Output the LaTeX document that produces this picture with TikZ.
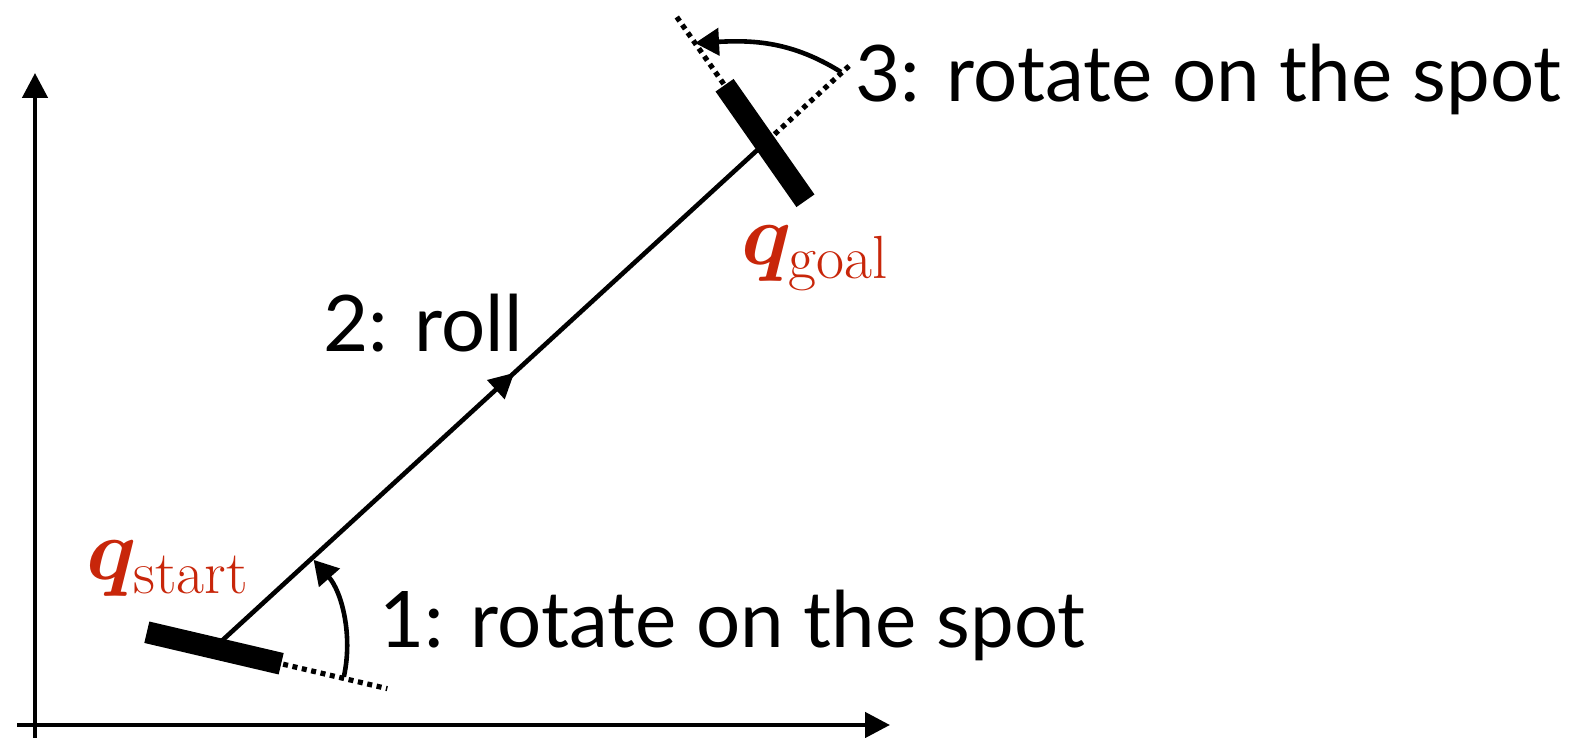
\RequirePackage{fix-cm}
\documentclass[tikz,border=0pt]{standalone}
\usepackage{amsmath}
\usepackage{bm}
\usepackage{fontspec}
\newfontfamily\labelfont{Lato}
\usetikzlibrary{arrows.meta,decorations.markings,calc}
\definecolor{qred}{RGB}{200,38,10}
\tikzset{
  ax/.style={line width=2.3pt, -{Triangle[length=12.5pt,width=12.5pt]}},
  robot/.style={line width=11pt, line cap=butt},
  ext/.style={line width=2.6pt, dash pattern=on 2.5pt off 2.3pt},
  turn/.style={line width=2.3pt, -{Triangle[length=12pt,width=13.5pt]}},
  lbl/.style={font=\labelfont\fontsize{39pt}{44pt}\selectfont, anchor=base west, inner sep=0pt},
  qlbl/.style={text=qred, font=\fontsize{43.5pt}{48pt}\selectfont, inner sep=0pt, anchor=base west},
  pathline/.style={line width=2.3pt, postaction={decorate},
    decoration={markings, mark=at position 0.545 with {\arrow{Triangle[length=12.5pt,width=12.5pt]}}}}
}
\begin{document}
\begin{tikzpicture}[x=0.5pt,y=0.5pt]
\useasboundingbox (0,0) rectangle (1594,738);
% axes
\coordinate (O1) at (35,0);
\coordinate (Yt) at (35,665);
\coordinate (O2) at (17,13);
\coordinate (Xt) at (890,13);
\draw[ax] (O1) -- (Yt);
\draw[ax] (O2) -- (Xt);
% poses
\coordinate (S) at (214,90);
\coordinate (G) at (765,595);
\draw[pathline] (S) -- (G);
% start robot
\draw[robot] (S) ++(166.8:69) -- ++(-13.2:138);
\draw[ext] (S) ++(-13.2:71) -- ++(-13.2:107);
\draw[turn] (S) ++(-12.5:133) arc[start angle=-12.5, end angle=41.5, radius=133];
% goal robot
\draw[robot] (G) ++(125:70.5) -- ++(-55:141);
\draw[ext] (G) ++(42.5:13) -- ++(42.5:104);
\draw[ext] (G) ++(125:72) -- ++(125:86);
\coordinate (A3s) at ($(G)+(43:104)$);
\coordinate (A3e) at ($(G)+(125:122)$);
\draw[turn] (A3s) to[out=148,in=3] (A3e);
% labels
\node[lbl] (t3) at (855,636) {3: rotate on the spot};
\node[lbl] (t2) at (323,386) {2: roll};
\node[lbl] (t1) at (379,90) {1: rotate on the spot};
\node[qlbl] (qs) at (86,158) {$\bm{q}_{\mathrm{start}}$};
\node[qlbl] (qg) at (741,473) {$\bm{q}_{\mathrm{goal}}$};
\end{tikzpicture}
\end{document}
